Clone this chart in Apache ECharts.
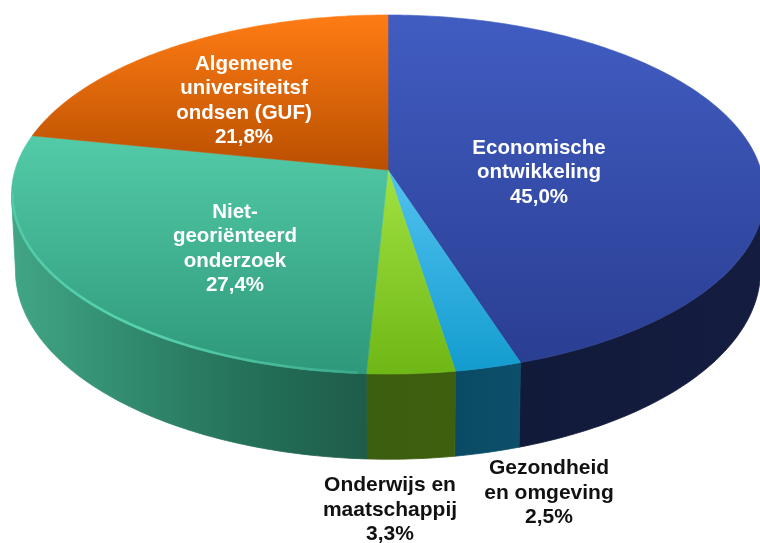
<!DOCTYPE html>
<html>
<head>
<meta charset="utf-8">
<style>
html, body { margin: 0; padding: 0; background: #fff; }
#main { width: 760px; height: 543px; }
</style>
<script src="https://cdn.jsdelivr.net/npm/echarts@6/dist/echarts.min.js"></script>
</head>
<body>
<div id="main"></div>
<script>
// data, clockwise from 12 o'clock
const categories = ["Economische\nontwikkeling", "Gezondheid\nen omgeving", "Onderwijs en\nmaatschappij", "Niet-\ngeoriënteerd\nonderzoek", "Algemene\nuniversiteitsf\nondsen (GUF)"];
const values = [45.0, 2.5, 3.3, 27.4, 21.8];
const valueLabels = ["45,0%", "2,5%", "3,3%", "27,4%", "21,8%"];

// styles
const topColors = [
        ["#415dc2", "#2a3e92"],
        ["#52c2f0", "#139ccf"],
        ["#a0e242", "#6fb716"],
        ["#53cba8", "#2e987a"],
        ["#ff7c14", "#b94f00"]
];
const wallColors = [
        [[0, "#121a3a"], [1, "#141d40"]],
        [[0, "#0a4a64"], [1, "#0d4f6a"]],
        [[0, "#3c5e10"], [1, "#3e5f0e"]],
        [[0, "#41a686"], [0.5, "#2a7d63"], [0.75, "#226b55"], [1, "#1e5c49"]],
        [[0, "#a04400"], [1, "#a04400"]]
];
const labelPos = [[539, 172.5], [549, 493], [390, 510], [235, 249], [244, 101]];
const labelColor = ["#fff", "#111", "#111", "#fff", "#fff"];
const labelSize = [20.5, 21, 21, 20.5, 20.5];

// layout of the tilted disc (perspective projection of a circle)
const k = 0.1365;
const topDisc = { cx: 388, cy: 170, rx: 373, ry: 176.2 };
const bottomDisc = { cx: 388, cy: 245, rx: 369, ry: 185 };

const total = values.reduce((a, b) => a + b, 0);
const project = (disc, angle) => {
        let u = Math.sin(angle), v = -Math.cos(angle);
        let w = 1 - k * v;
        return [disc.cx + disc.rx * u / w, disc.cy + disc.ry * v / w];
};
const sliceAngles = (index) => {
        let before = 0;
        for (let i = 0; i < index; i++) before += values[i];
        return [before / total * Math.PI * 2, (before + values[index]) / total * Math.PI * 2];
};
const arcPoints = (disc, a0, a1) => {
        let n = Math.max(4, Math.ceil((a1 - a0) * 60));
        let pts = [];
        for (let i = 0; i <= n; i++) pts.push(project(disc, a0 + (a1 - a0) * i / n));
        return pts;
};
const vGradient = (c) => ({ type: "linear", x: 0, y: 0, x2: 0, y2: 1, colorStops: [{ offset: 0, color: c[0] }, { offset: 1, color: c[1] }] });

// only the part of the side between the two silhouette angles can be seen
const sideFrom = Math.acos(-k);
const sideTo = Math.PI * 2 - sideFrom;

const renderWall = (params) => {
        let i = params.dataIndex;
        let [a0, a1] = sliceAngles(i);
        a0 = Math.max(a0, sideFrom);
        a1 = Math.min(a1, sideTo);
        if (a1 <= a0) return null;
        let pts = arcPoints(topDisc, a0, a1).concat(arcPoints(bottomDisc, a0, a1).reverse());
        let fill = {
                type: "linear", x: 0, y: 0, x2: 1, y2: 0,
                colorStops: wallColors[i].map(s => ({ offset: s[0], color: s[1] }))
        };
        // same colour stroke closes the thin seams between neighbours
        return {
                type: "polygon",
                shape: { points: pts },
                style: { fill: fill, stroke: fill, lineWidth: 0.8 }
        };
};

const renderTop = (params) => {
        let i = params.dataIndex;
        let [a0, a1] = sliceAngles(i);
        let pts = [[topDisc.cx, topDisc.cy]].concat(arcPoints(topDisc, a0, a1));
        let fill = vGradient(topColors[i]);
        let children = [{
                type: "polygon",
                shape: { points: pts },
                style: { fill: fill, stroke: fill, lineWidth: 0.6 }
        }];
        // light rim on the teal slice only
        if (i == 3) {
                let rim = { cx: topDisc.cx, cy: topDisc.cy - 1, rx: topDisc.rx - 1, ry: topDisc.ry };
                children.push({
                        type: "polyline",
                        shape: { points: arcPoints(rim, a0 + 0.02, sideTo) },
                        style: {
                                fill: "none",
                                lineWidth: 2.5,
                                stroke: {
                                        type: "linear", x: 1, y: 0, x2: 0, y2: 0,
                                        colorStops: [{ offset: 0, color: "#3aa98a" }, { offset: 0.6, color: "#58d3ae" }, { offset: 1, color: "#50cba7" }]
                                }
                        }
                });
        }
        return { type: "group", children: children };
};

const renderLabel = (params) => {
        let i = params.dataIndex;
        return {
                type: "text",
                x: labelPos[i][0],
                y: labelPos[i][1],
                style: {
                        text: categories[i] + "\n" + valueLabels[i],
                        fill: labelColor[i],
                        font: "bold " + labelSize[i] + "px 'Liberation Sans', Arial, sans-serif",
                        lineHeight: 24.5,
                        textAlign: "center",
                        textVerticalAlign: "middle"
                }
        };
};

let chart = echarts.init(document.getElementById("main"), null, { renderer: "canvas" });
chart.setOption({
        backgroundColor: "#fff",
        animation: false,
        series: [
                { type: "custom", coordinateSystem: "none", z: 1, silent: true, data: values, renderItem: renderWall },
                { type: "custom", coordinateSystem: "none", z: 2, silent: true, data: values, renderItem: renderTop },
                { type: "custom", coordinateSystem: "none", z: 3, silent: true, data: values, renderItem: renderLabel }
        ]
});
</script>
</body>
</html>
